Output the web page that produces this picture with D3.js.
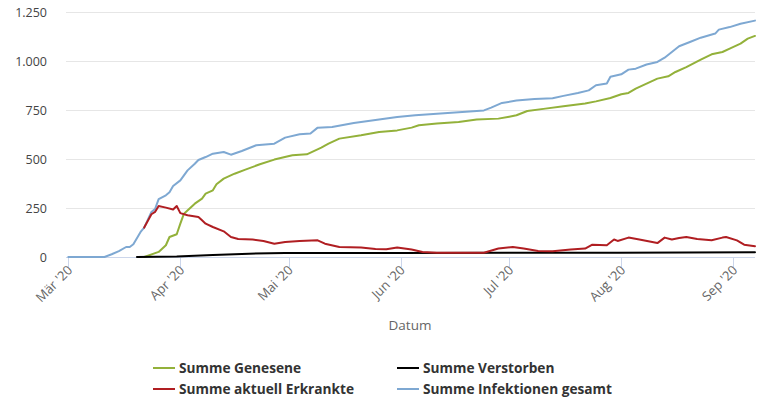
<!DOCTYPE html>
<html><head><meta charset="utf-8">
<script src="https://cdn.jsdelivr.net/npm/d3@7"></script>
<style>
html,body{margin:0;padding:0;background:#fff;}
svg{display:block;font-family:"Open Sans",sans-serif;}
</style></head>
<body><svg id="c" width="768" height="411"></svg>
<script>
// ---- data ----
const yTicks = [0, 250, 500, 750, 1000, 1250];
const xTickDates = ["2020-03-01","2020-04-01","2020-05-01","2020-06-01","2020-07-01","2020-08-01","2020-09-01"];
const xTickLabels = ["Mär '20","Apr '20","Mai '20","Jun '20","Jul '20","Aug '20","Sep '20"];
const seriesNames = ["Summe Genesene","Summe Verstorben","Summe aktuell Erkrankte","Summe Infektionen gesamt"];
const seriesColors = ["#93b13a","#000000","#b01e22","#7ea8d2"];

const infektionen = [
 ["2020-03-01",0],["2020-03-11",0],["2020-03-13",14],["2020-03-15",30],["2020-03-17",51],["2020-03-18",51],
 ["2020-03-19",65],["2020-03-21",128],["2020-03-22",150],["2020-03-24",230],["2020-03-25",245],["2020-03-26",295],
 ["2020-03-28",315],["2020-03-29",330],["2020-03-30",362],["2020-04-01",391],["2020-04-03",442],["2020-04-05",476],
 ["2020-04-06",495],["2020-04-08",510],["2020-04-10",527],["2020-04-13",536],["2020-04-15",522],["2020-04-18",541],
 ["2020-04-22",570],["2020-04-27",578],["2020-04-30",609],["2020-05-04",626],["2020-05-07",630],["2020-05-09",660],
 ["2020-05-13",663],["2020-05-19",684],["2020-05-23",694],["2020-05-26",701],["2020-05-31",714],["2020-06-05",723],
 ["2020-06-12",732],["2020-06-18",740],["2020-06-24",748],["2020-06-26",762],["2020-06-29",786],["2020-07-03",798],
 ["2020-07-08",806],["2020-07-13",810],["2020-07-16",822],["2020-07-20",837],["2020-07-23",850],["2020-07-25",876],
 ["2020-07-28",885],["2020-07-29",920],["2020-08-01",932],["2020-08-03",956],["2020-08-05",961],["2020-08-08",982],
 ["2020-08-11",995],["2020-08-13",1017],["2020-08-15",1046],["2020-08-17",1075],["2020-08-20",1097],["2020-08-23",1119],
 ["2020-08-27",1140],["2020-08-28",1160],["2020-08-31",1173],["2020-09-03",1190],["2020-09-07",1206]
];
const genesene = [
 ["2020-03-22",0],["2020-03-26",26],["2020-03-28",60],["2020-03-29",102],["2020-03-31",116],["2020-04-01",170],
 ["2020-04-02",221],["2020-04-05",272],["2020-04-07",298],["2020-04-08",323],["2020-04-10",340],["2020-04-11",371],
 ["2020-04-13",400],["2020-04-16",425],["2020-04-19",446],["2020-04-23",473],["2020-04-27",497],["2020-05-02",519],
 ["2020-05-06",524],["2020-05-10",558],["2020-05-12",578],["2020-05-15",604],["2020-05-21",621],["2020-05-26",638],
 ["2020-05-31",646],["2020-06-04",660],["2020-06-06",672],["2020-06-11",681],["2020-06-17",689],["2020-06-22",701],
 ["2020-06-28",706],["2020-07-01",716],["2020-07-03",723],["2020-07-06",745],["2020-07-11",757],["2020-07-16",769],
 ["2020-07-22",783],["2020-07-25",794],["2020-07-29",811],["2020-08-01",830],["2020-08-03",837],["2020-08-05",859],
 ["2020-08-08",885],["2020-08-11",910],["2020-08-14",922],["2020-08-16",944],["2020-08-19",969],["2020-08-23",1007],
 ["2020-08-26",1034],["2020-08-29",1046],["2020-08-31",1063],["2020-09-03",1089],["2020-09-05",1114],["2020-09-07",1128]
];
const erkrankte = [
 ["2020-03-22",150],["2020-03-24",218],["2020-03-25",230],["2020-03-26",260],["2020-03-28",252],["2020-03-30",242],
 ["2020-03-31",260],["2020-04-01",224],["2020-04-03",213],["2020-04-06",204],["2020-04-07",187],["2020-04-08",170],
 ["2020-04-10",153],["2020-04-13",131],["2020-04-15",102],["2020-04-17",92],["2020-04-21",89],["2020-04-24",82],
 ["2020-04-27",68],["2020-04-30",77],["2020-05-04",82],["2020-05-09",85],["2020-05-11",68],["2020-05-15",51],
 ["2020-05-21",48],["2020-05-25",41],["2020-05-28",39],["2020-05-31",48],["2020-06-04",38],["2020-06-07",26],
 ["2020-06-11",22],["2020-06-17",22],["2020-06-24",22],["2020-06-28",43],["2020-07-02",51],["2020-07-05",43],
 ["2020-07-09",31],["2020-07-13",29],["2020-07-18",38],["2020-07-22",43],["2020-07-24",63],["2020-07-28",60],
 ["2020-07-30",89],["2020-07-31",82],["2020-08-03",99],["2020-08-06",89],["2020-08-11",71],["2020-08-13",99],
 ["2020-08-15",89],["2020-08-17",97],["2020-08-19",102],["2020-08-22",92],["2020-08-26",85],["2020-08-29",99],
 ["2020-08-30",102],["2020-09-02",85],["2020-09-04",63],["2020-09-07",55]
];
const verstorben = [
 ["2020-03-20",0],["2020-03-31",3],["2020-04-10",10],["2020-04-20",17],["2020-04-30",20],["2020-05-31",21],
 ["2020-07-31",22],["2020-09-07",24]
];

// ---- chart ----
const svg = d3.select("#c");
const parse = d3.utcParse("%Y-%m-%d");
const plotLeft = 66, plotRight = 755, plotTop = 12, plotBottom = 257;

const x = d3.scaleUtc()
  .domain([parse("2020-03-01"), parse("2020-09-01")])
  .range([68.3, 733.3]);
const y = d3.scaleLinear().domain([0, 1250]).range([plotBottom, plotTop]);

const de = d3.formatLocale({decimal: ",", thousands: ".", grouping: [3], currency: ["", " €"]});
const fmt = de.format(",");

// gridlines
svg.append("g").selectAll("line").data(yTicks.filter(d => d > 0)).join("line")
  .attr("x1", plotLeft).attr("x2", plotRight)
  .attr("y1", d => y(d) + 0.5).attr("y2", d => y(d) + 0.5)
  .attr("stroke", "#e6e6e6").attr("stroke-width", 1);

// y labels
svg.append("g").selectAll("text").data(yTicks).join("text")
  .attr("x", 47).attr("y", d => y(d) + 4.5)
  .attr("text-anchor", "end").attr("fill", "#444").attr("font-size", 12.5)
  .text(d => fmt(d));

// x axis line & ticks
svg.append("line").attr("x1", plotLeft).attr("x2", plotRight)
  .attr("y1", plotBottom + 0.5).attr("y2", plotBottom + 0.5)
  .attr("stroke", "#ccd6eb");
const xt = xTickDates.map(parse);
svg.append("g").selectAll("line").data(xt).join("line")
  .attr("x1", d => Math.round(x(d)) + 0.5).attr("x2", d => Math.round(x(d)) + 0.5)
  .attr("y1", plotBottom).attr("y2", plotBottom + 10)
  .attr("stroke", "#ccd6eb");
svg.append("g").selectAll("text").data(xt).join("text")
  .attr("transform", d => `translate(${x(d) + 5},${plotBottom + 14}) rotate(-45)`)
  .attr("text-anchor", "end").attr("fill", "#666").attr("font-size", 13)
  .text((d, i) => xTickLabels[i]);

// axis title
svg.append("text").attr("x", 410).attr("y", 330)
  .attr("text-anchor", "middle").attr("fill", "#666").attr("font-size", 13.5)
  .text("Datum");

// lines
const line = d3.line().x(d => x(parse(d[0]))).y(d => y(d[1]));
const draw = [
  [infektionen, seriesColors[3]],
  [genesene, seriesColors[0]],
  [verstorben, seriesColors[1]],
  [erkrankte, seriesColors[2]]
];
svg.append("g").selectAll("path").data(draw).join("path")
  .attr("d", d => line(d[0]))
  .attr("fill", "none").attr("stroke", d => d[1])
  .attr("stroke-width", 2).attr("stroke-linejoin", "round").attr("stroke-linecap", "round");

// legend
const legPos = [[153, 368], [397, 368], [153, 389], [397, 389]];
const leg = svg.append("g").selectAll("g").data(seriesNames).join("g")
  .attr("transform", (d, i) => `translate(${legPos[i][0]},${legPos[i][1]})`);
leg.append("line").attr("x1", 0).attr("x2", 22).attr("y1", 0).attr("y2", 0)
  .attr("stroke", (d, i) => seriesColors[i]).attr("stroke-width", 2);
leg.append("text").attr("x", 26).attr("y", 5)
  .attr("fill", "#333").attr("font-size", 13.7).attr("font-weight", "bold")
  .text(d => d);
</script>
</body></html>
